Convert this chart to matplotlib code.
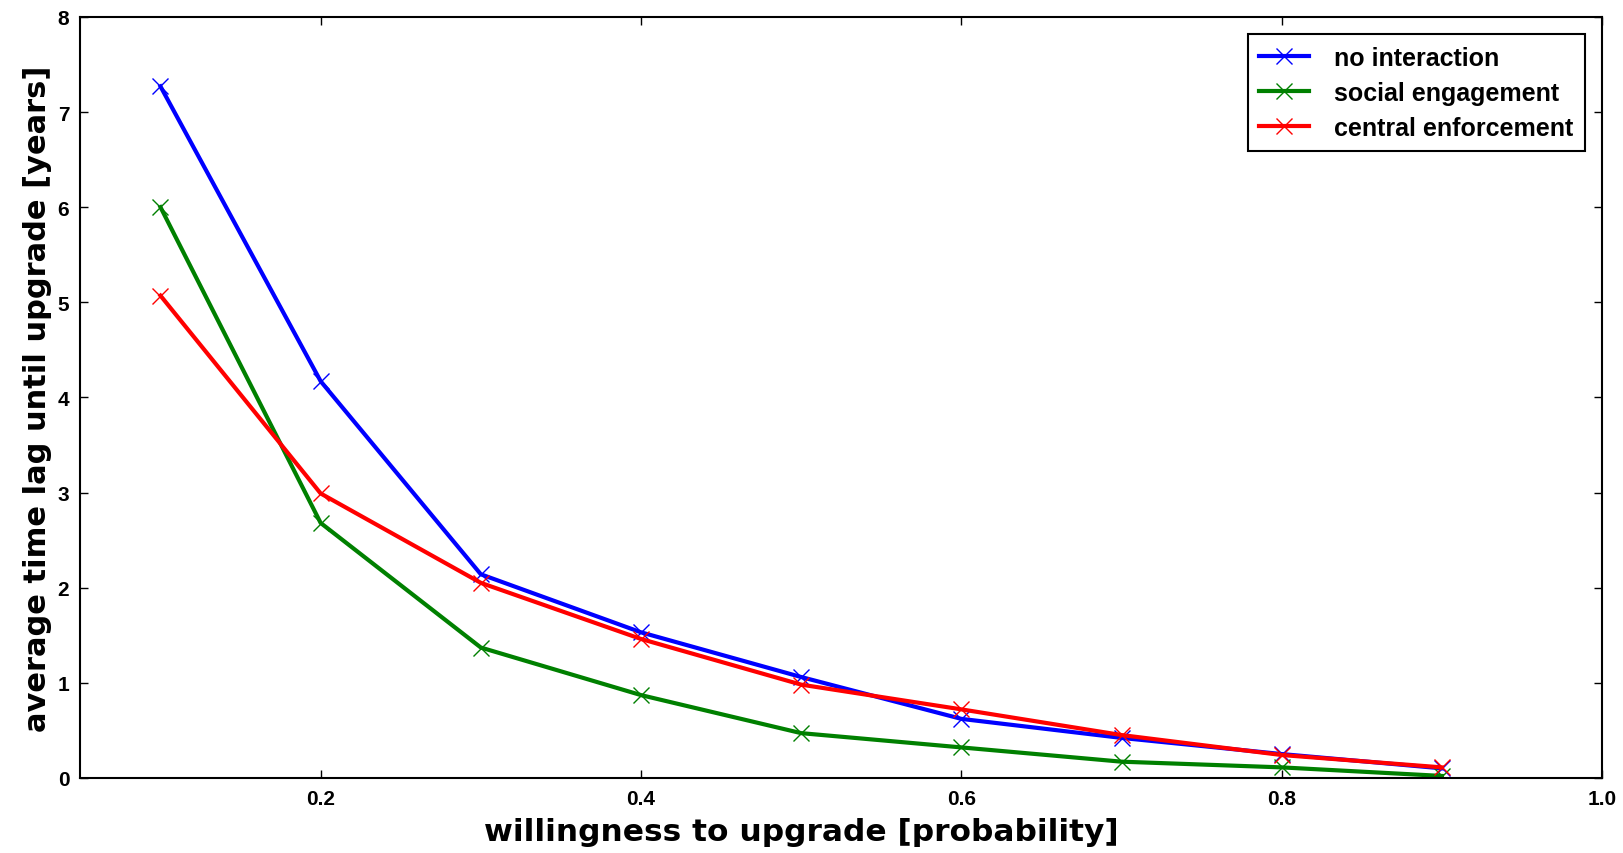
import numpy as np
import matplotlib
matplotlib.use("Agg")
import matplotlib.pyplot as plt

# valeurs
willingness = [0.1, 0.2, 0.3, 0.4, 0.5, 0.6, 0.7, 0.8, 0.9]
no_interaction = [7.27, 4.17, 2.14, 1.53, 1.06, 0.62, 0.42, 0.25, 0.10]
social_engagement = [6.0, 2.68, 1.37, 0.87, 0.47, 0.32, 0.17, 0.11, 0.02]
central_enforcement = [5.07, 2.99, 2.05, 1.46, 0.98, 0.72, 0.45, 0.24, 0.11]

fig = plt.figure(figsize=(16.24, 8.54), dpi=100)
ax = fig.add_axes([0.0495, 0.088, 0.937, 0.891])

style = dict(marker='x', markersize=11, markeredgewidth=1.0, linewidth=3)
ax.plot(willingness, no_interaction, color='blue', label='no interaction', **style)
ax.plot(willingness, social_engagement, color='green', label='social engagement', **style)
ax.plot(willingness, central_enforcement, color='red', label='central enforcement', **style)

ax.set_xlim(0.05, 1.0)
ax.set_ylim(0, 8)
ax.set_xticks([0.2, 0.4, 0.6, 0.8, 1.0])
ax.set_yticks(range(0, 9))
ax.tick_params(direction='in', top=True, right=True, length=6, width=1, pad=8)
for lab in ax.get_xticklabels() + ax.get_yticklabels():
    lab.set_family('Liberation Sans')
    lab.set_fontweight('bold')
    lab.set_fontsize(15)
for sp in ax.spines.values():
    sp.set_linewidth(1.5)

ax.set_xlabel('willingness to upgrade [probability]', fontsize=22.5, fontweight='bold')
ax.xaxis.set_label_coords(0.474, -0.051)
ax.set_ylabel('average time lag until upgrade [years]', fontsize=22, fontweight='bold', labelpad=4)

leg = ax.legend(loc='upper right', prop={'family': 'Liberation Sans', 'weight': 'bold', 'size': 18},
                fancybox=False, edgecolor='black', framealpha=1, borderpad=0.45,
                handlelength=2.0, handletextpad=1.0, labelspacing=0.45, borderaxespad=0.7)
leg.get_frame().set_linewidth(1.5)

fig.savefig('out.png', dpi=100)
